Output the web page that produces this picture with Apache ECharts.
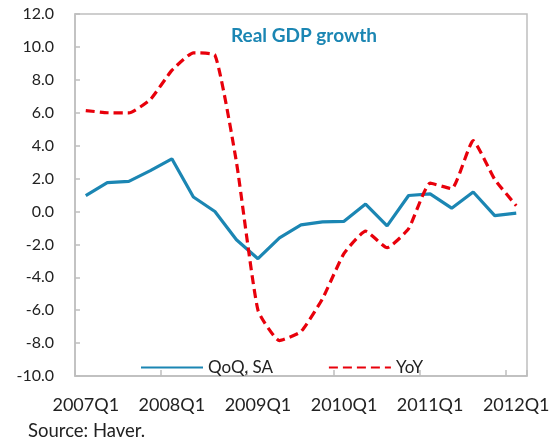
<!DOCTYPE html>
<html>
<head>
<meta charset="utf-8">
<script src="https://cdn.jsdelivr.net/npm/echarts@6/dist/echarts.min.js"></script>
<style>html,body{margin:0;padding:0;background:#fff;}#c{width:558px;height:444px;}</style>
</head>
<body>
<div id="c"></div>
<script>
const quarters = ['2007Q1','2007Q2','2007Q3','2007Q4','2008Q1','2008Q2','2008Q3','2008Q4',
  '2009Q1','2009Q2','2009Q3','2009Q4','2010Q1','2010Q2','2010Q3','2010Q4',
  '2011Q1','2011Q2','2011Q3','2011Q4','2012Q1'];
const qoqSA = [0.96, 1.75, 1.83, 2.48, 3.2, 0.88, 0.0, -1.72, -2.87, -1.6, -0.82, -0.63, -0.6, 0.45, -0.88, 0.97, 1.07, 0.2, 1.18, -0.25, -0.1];
const yoy = [6.13, 6.0, 5.99, 6.8, 8.57, 9.64, 9.5, 3.0, -6.0, -7.85, -7.3, -5.3, -2.55, -1.2, -2.2, -1.05, 1.72, 1.38, 4.3, 1.95, 0.35];
const yTicks = {min: -10, max: 12, step: 2};

const blue = '#1b86b3';
const red = '#e8000b';
const grey = '#bfbfbf';
const font = 'Lato';

const chart = echarts.init(document.getElementById('c'));
chart.setOption({
  animation: false,
  title: {
    text: 'Real GDP growth',
    left: 226, top: 21,
    textStyle: {fontFamily: font, fontWeight: 'bold', fontSize: 19, color: blue}
  },
  legend: {
    left: 135, top: 354,
    itemWidth: 62, itemHeight: 14, itemGap: 55,
    itemStyle: {opacity: 0},
    textStyle: {fontFamily: font, fontSize: 17, color: '#222'},
    data: ['QoQ, SA', 'YoY']
  },
  grid: {left: 75, right: 31, top: 14, bottom: 68, show: true, borderColor: grey, borderWidth: 1.5, backgroundColor: 'transparent'},
  xAxis: [{
    type: 'category', data: quarters, position: 'bottom',
    axisLine: {show: false}, axisTick: {show: false},
    axisLabel: {interval: 3, fontFamily: font, fontSize: 18, color: '#222', margin: 20}
  }, {
    type: 'category', data: quarters, position: 'bottom',
    axisLine: {show: true, onZero: true, lineStyle: {color: grey, width: 1.5}},
    axisTick: {show: true, inside: true, interval: 3, length: 6, lineStyle: {color: grey, width: 1.5}},
    axisLabel: {show: false}
  }],
  yAxis: {
    type: 'value', min: yTicks.min, max: yTicks.max, interval: yTicks.step,
    axisLine: {show: true, lineStyle: {color: grey, width: 1.5}},
    axisTick: {show: true, inside: true, length: 5, lineStyle: {color: grey, width: 1.5}},
    splitLine: {show: false},
    axisLabel: {formatter: v => v.toFixed(1), fontFamily: font, fontSize: 16, color: '#222', margin: 21}
  },
  series: [{
    name: 'QoQ, SA', type: 'line', data: qoqSA, symbol: 'none', xAxisIndex: 0,
    lineStyle: {color: blue, width: 3.2}, itemStyle: {color: blue}
  }, {
    name: 'YoY', type: 'line', data: yoy, symbol: 'none', xAxisIndex: 0, smooth: 0.15,
    lineStyle: {color: red, width: 3.2, type: [9, 5]}, itemStyle: {color: red}
  }],
  graphic: [{
    type: 'text', left: 28, top: 422,
    style: {text: 'Source: Haver.', fontFamily: font, fontSize: 18.5, fill: '#222'}
  }]
});
</script>
</body>
</html>
